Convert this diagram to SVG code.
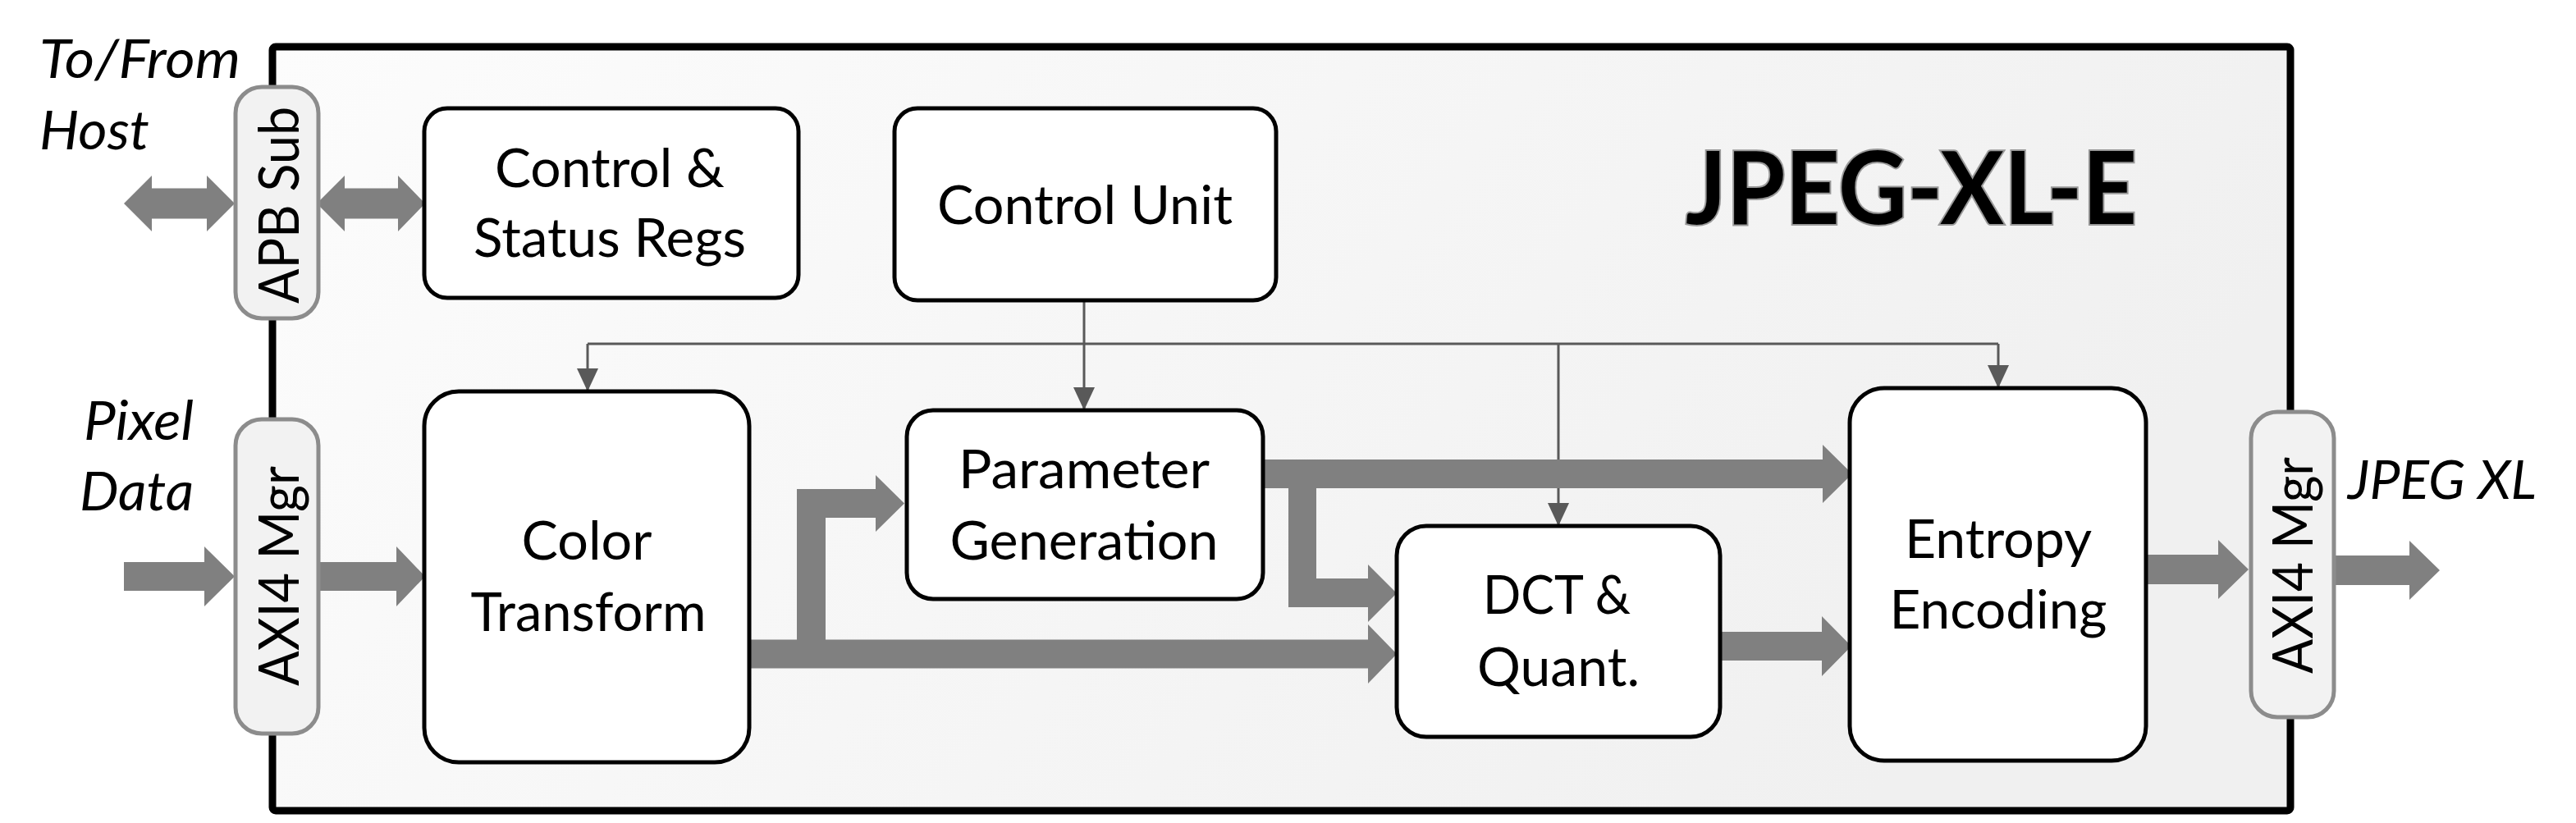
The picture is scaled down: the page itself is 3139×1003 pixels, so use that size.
<svg xmlns="http://www.w3.org/2000/svg" width="3139" height="1003" viewBox="0 0 3139 1003">
<style>
.node{fill:#ffffff;stroke:#000000;stroke-width:5}
.pill{fill:#f2f2f2;stroke:#8c8c8c;stroke-width:5}
.lbl{font-family:Lato,"Liberation Sans",sans-serif;font-size:66px;fill:#000;text-anchor:middle}
.plbl{font-family:Lato,"Liberation Sans",sans-serif;font-size:67px;fill:#000;text-anchor:middle}
.ital{font-family:Lato,"Liberation Sans",sans-serif;font-size:66px;font-style:italic;fill:#000}
.flow{fill:#808080;stroke:none}
.ctl{fill:none;stroke:#595959;stroke-width:3}
</style>
<defs>
<linearGradient id="bg" x1="0" y1="0" x2="1" y2="0.3">
<stop offset="0" stop-color="#fcfcfc"/>
<stop offset="1" stop-color="#f0f0f0"/>
</linearGradient>
<marker id="ah" markerUnits="userSpaceOnUse" markerWidth="28" markerHeight="26" viewBox="0 0 28 26" refX="28" refY="13" orient="auto">
<path d="M0,0 L28,13 L0,26 Z" fill="#595959"/>
</marker>
</defs>
<rect width="3139" height="1003" fill="#ffffff"/>
<g id="outer">
<rect x="332" y="57" width="2459" height="931" rx="4" fill="url(#bg)" stroke="#000" stroke-width="9"/>
<text x="2329" y="273" font-family="Lato,'Liberation Sans',sans-serif" font-weight="bold" font-size="122" text-anchor="middle" fill="#000" stroke="#999" stroke-width="4" paint-order="stroke" textLength="550" lengthAdjust="spacingAndGlyphs">JPEG-XL-E</text>
</g>
<g id="connectors">
<path class="ctl" d="M716,419 H2435"/>
<path class="ctl" d="M716,419 V477" marker-end="url(#ah)"/>
<path class="ctl" d="M1321,366 V500" marker-end="url(#ah)"/>
<path class="ctl" d="M1899,419 V641" marker-end="url(#ah)"/>
<path class="ctl" d="M2435,419 V473" marker-end="url(#ah)"/>
<polygon class="flow" points="151,248 185,214 185,229.5 252,229.5 252,214 286,248 252,282 252,266.5 185,266.5 185,282"/>
<polygon class="flow" points="386,248 420,214 420,229.5 485,229.5 485,214 518,248 485,282 485,266.5 420,266.5 420,282"/>
<polygon class="flow" points="151,685 249,685 249,666 286,702.5 249,739 249,720 151,720"/>
<polygon class="flow" points="388,685 483,685 483,666 518,702.5 483,739 483,720 388,720"/>
<polygon class="flow" points="913,779.5 1667,779.5 1667,761 1702,797 1667,833 1667,814.5 913,814.5"/>
<polygon class="flow" points="971,814 971,596 1067,596 1067,579 1102,613.5 1067,648 1067,631 1006,631 1006,814"/>
<polygon class="flow" points="1539,560 2221,560 2221,542 2257,577.5 2221,613 2221,595 1604,595 1604,705 1667,705 1667,688 1702,723 1667,758 1667,740 1570,740 1570,595 1539,595"/>
<polygon class="flow" points="2096,770 2220,770 2220,751 2256,787.5 2220,824 2220,805 2096,805"/>
<polygon class="flow" points="2615,676 2703,676 2703,658 2740,694 2703,730 2703,712 2615,712"/>
<polygon class="flow" points="2839,677 2936,677 2936,659 2973,695 2936,731 2936,713 2839,713"/>
</g>
<g id="apb-sub">
<rect class="pill" x="287" y="106" width="101" height="282" rx="32"/>
<text class="plbl" transform="rotate(-90 364 250)" x="364" y="250" textLength="240" lengthAdjust="spacingAndGlyphs">APB Sub</text>
</g>
<g id="axi4-mgr-in">
<rect class="pill" x="287" y="511" width="101" height="383" rx="32"/>
<text class="plbl" transform="rotate(-90 364 702)" x="364" y="702" textLength="268" lengthAdjust="spacingAndGlyphs">AXI4 Mgr</text>
</g>
<g id="axi4-mgr-out">
<rect class="pill" x="2743" y="502" width="101" height="372" rx="32"/>
<text class="plbl" transform="rotate(-90 2818 689)" x="2818" y="689" textLength="264" lengthAdjust="spacingAndGlyphs">AXI4 Mgr</text>
</g>
<g id="csr">
<rect class="node" x="517" y="132" width="456" height="231" rx="28"/>
<text class="lbl" x="743" y="228" textLength="280" lengthAdjust="spacingAndGlyphs">Control &amp;</text>
<text class="lbl" x="743" y="313" textLength="332" lengthAdjust="spacingAndGlyphs">Status Regs</text>
</g>
<g id="control-unit">
<rect class="node" x="1090" y="132" width="465" height="234" rx="28"/>
<text class="lbl" x="1322" y="273" textLength="360" lengthAdjust="spacingAndGlyphs">Control Unit</text>
</g>
<g id="color-transform">
<rect class="node" x="517" y="477" width="396" height="452" rx="42"/>
<text class="lbl" x="715" y="682" textLength="159" lengthAdjust="spacingAndGlyphs">Color</text>
<text class="lbl" x="717" y="769" textLength="287" lengthAdjust="spacingAndGlyphs">Transform</text>
</g>
<g id="param-gen">
<rect class="node" x="1105" y="500" width="434" height="230" rx="32"/>
<text class="lbl" x="1321" y="595" textLength="306" lengthAdjust="spacingAndGlyphs">Parameter</text>
<text class="lbl" x="1321" y="682" textLength="327" lengthAdjust="spacingAndGlyphs">Generation</text>
</g>
<g id="dct-quant">
<rect class="node" x="1702" y="641" width="394" height="257" rx="36"/>
<text class="lbl" x="1897" y="748" textLength="180" lengthAdjust="spacingAndGlyphs">DCT &amp;</text>
<text class="lbl" x="1899" y="836" textLength="198" lengthAdjust="spacingAndGlyphs">Quant.</text>
</g>
<g id="entropy">
<rect class="node" x="2254" y="473" width="361" height="454" rx="42"/>
<text class="lbl" x="2435" y="680" textLength="228" lengthAdjust="spacingAndGlyphs">Entropy</text>
<text class="lbl" x="2435" y="766" textLength="265" lengthAdjust="spacingAndGlyphs">Encoding</text>
</g>
<g id="labels">
<text class="ital" x="48" y="95" textLength="245" lengthAdjust="spacingAndGlyphs">To/From</text>
<text class="ital" x="48" y="182" textLength="134" lengthAdjust="spacingAndGlyphs">Host</text>
<text class="ital" x="236" y="536" text-anchor="end" textLength="134" lengthAdjust="spacingAndGlyphs">Pixel</text>
<text class="ital" x="236" y="622" text-anchor="end" textLength="139" lengthAdjust="spacingAndGlyphs">Data</text>
<text class="ital" x="2861" y="608" textLength="230" lengthAdjust="spacingAndGlyphs">JPEG XL</text>
</g>
</svg>
